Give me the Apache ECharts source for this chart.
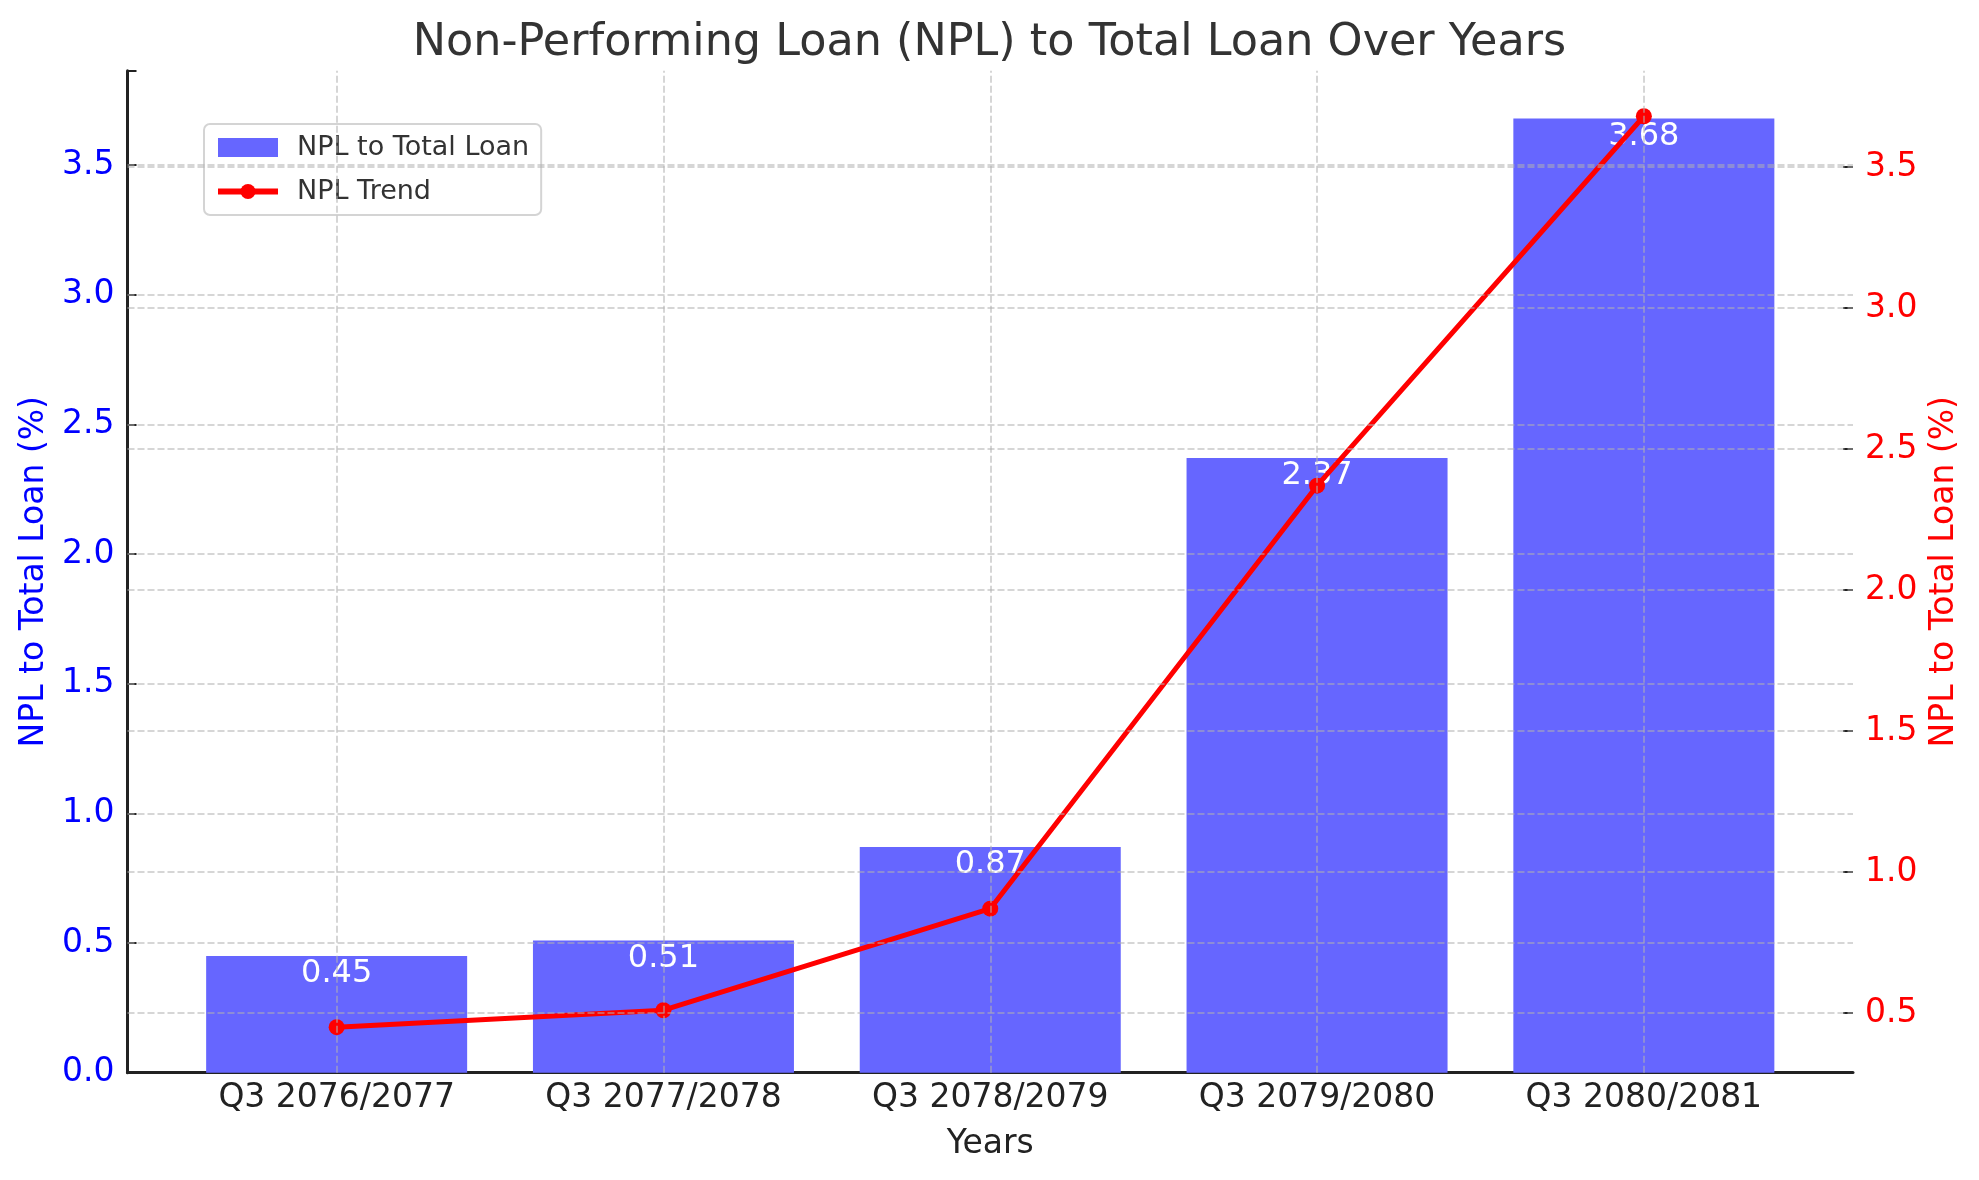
<!DOCTYPE html>
<html>
<head>
<meta charset="utf-8">
<script src="https://cdn.jsdelivr.net/npm/echarts@6/dist/echarts.min.js"></script>
<style>
html,body{margin:0;padding:0;background:#fff;}
#chart{width:1979px;height:1180px;}
</style>
</head>
<body>
<div id="chart"></div>
<script>
// ---- data ----
const categories = ['Q3 2076/2077', 'Q3 2077/2078', 'Q3 2078/2079', 'Q3 2079/2080', 'Q3 2080/2081'];
const nplValues = [0.45, 0.51, 0.87, 2.37, 3.68];
const trendValues = [0.45, 0.51, 0.87, 2.37, 3.68];
const leftTicks = [0.0, 0.5, 1.0, 1.5, 2.0, 2.5, 3.0, 3.5];
const rightTicks = [0.5, 1.0, 1.5, 2.0, 2.5, 3.0, 3.5];
const titleText = 'Non-Performing Loan (NPL) to Total Loan Over Years';

// ---- styles ----
const FONT = 'DejaVu Sans';
const gridColor = 'rgba(176,176,176,0.7)';
const gridLine = {color: gridColor, width: 1.5, type: [7, 3]};
const catIdx = categories.map((c, i) => i);

const chart = echarts.init(document.getElementById('chart'), null, {renderer: 'canvas'});

const option = {
  backgroundColor: '#ffffff',
  animation: false,
  textStyle: {fontFamily: FONT},
  title: {
    text: titleText,
    left: 'center',
    top: 16,
    textStyle: {fontFamily: FONT, fontSize: 44.5, fontWeight: 'normal', color: '#333333'}
  },
  legend: {
    orient: 'vertical',
    left: 204,
    top: 124,
    padding: [10, 12, 10, 11],
    itemGap: 17,
    itemWidth: 60,
    itemHeight: 19,
    borderColor: '#d4d4d4',
    borderWidth: 2,
    borderRadius: 6,
    backgroundColor: 'rgba(255,255,255,0.8)',
    textStyle: {fontFamily: FONT, fontSize: 27, color: '#333333', padding: [0, 0, 0, 14]},
    data: [
      {name: 'NPL to Total Loan', icon: 'rect'},
      {name: 'NPL Trend', lineStyle: {width: 6, color: '#ff0000'}}
    ]
  },
  grid: {left: 127.5, right: 126, top: 70.7, bottom: 107.3, containLabel: false},
  xAxis: {
    type: 'value',
    min: -0.64,
    max: 4.64,
    name: 'Years',
    nameLocation: 'middle',
    nameGap: 55,
    nameTextStyle: {fontFamily: FONT, fontSize: 33, color: '#222222'},
    axisLine: {show: true, onZero: false, lineStyle: {color: '#222222', width: 3}},
    axisTick: {show: true, inside: true, length: 9, customValues: catIdx, lineStyle: {color: '#222222', width: 2}},
    axisLabel: {
      show: true, customValues: catIdx, margin: 9,
      fontFamily: FONT, fontSize: 33, color: '#222222',
      formatter: v => categories[Math.round(v)] || ''
    },
    splitLine: {show: false}
  },
  yAxis: [
    {
      type: 'value',
      min: 0,
      max: 3.864,
      interval: 0.5,
      name: 'NPL to Total Loan (%)',
      nameLocation: 'middle',
      nameGap: 77,
      nameTextStyle: {fontFamily: FONT, fontSize: 33, color: '#0000ff'},
      axisLine: {show: true, onZero: false, lineStyle: {color: '#222222', width: 3}},
      axisTick: {show: true, inside: true, length: 9, lineStyle: {color: '#222222', width: 2}},
      axisLabel: {
        show: true, margin: 13, fontFamily: FONT, fontSize: 33, color: '#0000ff',
        customValues: leftTicks,
        formatter: v => v.toFixed(1)
      },
      splitLine: {show: false}
    },
    {
      type: 'value',
      position: 'right',
      min: 0.2885,
      max: 3.8415,
      name: 'NPL to Total Loan (%)',
      nameLocation: 'middle',
      nameGap: 72,
      nameTextStyle: {fontFamily: FONT, fontSize: 33, color: '#ff0000'},
      axisLine: {show: false, onZero: false},
      axisTick: {show: true, inside: true, length: 10, customValues: rightTicks, lineStyle: {color: '#222222', width: 2}},
      axisLabel: {
        show: true, margin: 12, fontFamily: FONT, fontSize: 33, color: '#ff0000',
        customValues: rightTicks,
        formatter: v => v.toFixed(1)
      },
      splitLine: {show: false}
    }
  ],
  series: [
    {
      name: 'NPL to Total Loan',
      type: 'bar',
      xAxisIndex: 0,
      yAxisIndex: 0,
      z: 1,
      barWidth: 261,
      itemStyle: {color: '#6666ff'},
      label: {
        show: true,
        position: 'insideTop',
        distance: 0,
        offset: [0, 2],
        fontFamily: FONT,
        fontSize: 32,
        color: '#ffffff',
        formatter: p => nplValues[p.dataIndex].toFixed(2).replace(/0$/, '').replace(/\.$/, '')
      },
      data: categories.map((c, i) => [i, nplValues[i]]),
      markLine: {
        silent: true,
        symbol: 'none',
        label: {show: false},
        lineStyle: gridLine,
        emphasis: {disabled: true},
        data: leftTicks.filter(v => v > 0).map(v => ({yAxis: v}))
          .concat(catIdx.map(i => ({xAxis: i})))
      }
    },
    {
      name: 'rightGrid',
      type: 'line',
      xAxisIndex: 0,
      yAxisIndex: 1,
      z: 2,
      data: [],
      markLine: {
        silent: true,
        symbol: 'none',
        label: {show: false},
        lineStyle: gridLine,
        emphasis: {disabled: true},
        data: rightTicks.map(v => ({yAxis: v}))
      }
    },
    {
      name: 'NPL Trend',
      type: 'line',
      xAxisIndex: 0,
      yAxisIndex: 1,
      z: 3,
      symbol: 'circle',
      symbolSize: 16,
      showSymbol: true,
      lineStyle: {color: '#ff0000', width: 5},
      itemStyle: {color: '#ff0000'},
      data: categories.map((c, i) => [i, trendValues[i]])
    }
  ]
};
chart.setOption(option);
</script>
</body>
</html>
